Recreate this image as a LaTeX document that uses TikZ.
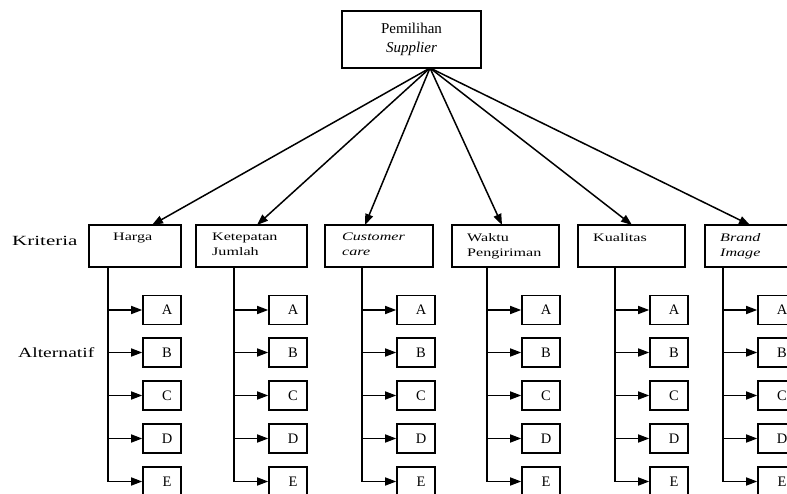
\documentclass[tikz,border=0pt]{standalone}
\usepackage{fontspec}
\setmainfont{Liberation Serif}
\usetikzlibrary{arrows.meta}
% horizontally widened text, as in the printed hierarchy
\newcommand{\wideword}[2][1.4]{\scalebox{#1}[1]{#2}}
\tikzset{
  box/.style={draw, line width=1.6pt, inner sep=0pt},
  crit/.style={box, minimum width=#1, minimum height=42pt},
  alt/.style={box, minimum width=38pt, minimum height=29pt, font=\fontsize{14.5}{14.5}\selectfont},
  ctext/.style={anchor=north west, inner sep=0pt, align=left, font=\fontsize{11.5}{15}\selectfont},
  sidelabel/.style={anchor=west, inner sep=0pt, font=\fontsize{14}{14}\selectfont},
  link/.style={line width=1.5pt, -{Triangle[length=11pt,width=8pt]}},
  trunk/.style={line width=1.5pt},
}
\begin{document}
\begin{tikzpicture}[x=1pt,y=-1pt]
\useasboundingbox (0,0) rectangle (787,494);
\clip (0,0) rectangle (787,494);

% goal
\node[box, minimum width=139pt, minimum height=57pt, align=center,
      font=\fontsize{15}{19}\selectfont] (goal) at (411.5,39.5) {Pemilihan\\\textit{Supplier}};
\coordinate (hub) at (430,68);

% level labels
\node[sidelabel] (krit) at (12,241) {\wideword[1.5]{Kriteria}};
\node[sidelabel] (altl) at (18,353) {\wideword[1.4]{Alternatif}};

% criteria with their alternatives
\foreach \n/\cx/\w/\lx/\tipx/\tx/\txt in {
  1/135/92/108/152/113/{\wideword{Harga}},
  2/251.5/111/234/257/212/{\wideword{Ketepatan}\\\wideword{Jumlah}},
  3/379/108/362/365/342/{\wideword{\textit{Customer}}\\\wideword{\textit{care}}},
  4/505.5/107/487/502/467/{\wideword{Waktu}\\\wideword{Pengiriman}},
  5/631.5/107/615/632/593/{\wideword{Kualitas}},
  6/758.5/107/723/750/720/{\wideword{\textit{Brand}}\\\wideword{\textit{Image}}}%
}{
  \node[crit=\w pt] (k\n) at (\cx,246) {};
  \node[ctext] (k\n txt) at (\tx,233) {\txt};
  \coordinate (k\n in) at (\tipx,225);
  \draw[link] (hub) -- (k\n in);
  \coordinate (k\n root) at (\lx,267);
  \foreach \r/\ry/\L in {a/310/A,b/352.5/B,c/395.5/C,d/438.5/D,e/481.5/E}{
    \node[alt] (k\n\r) at (\lx+54,\ry) {\hspace*{10pt}\L};
  }
  \draw[trunk] (k\n root) -- (k\n root |- k\n e.west);
  \foreach \r in {a,b,c,d,e}{
    \draw[link] (k\n root |- k\n\r.west) -- (k\n\r.west);
  }
}
\end{tikzpicture}
\end{document}
